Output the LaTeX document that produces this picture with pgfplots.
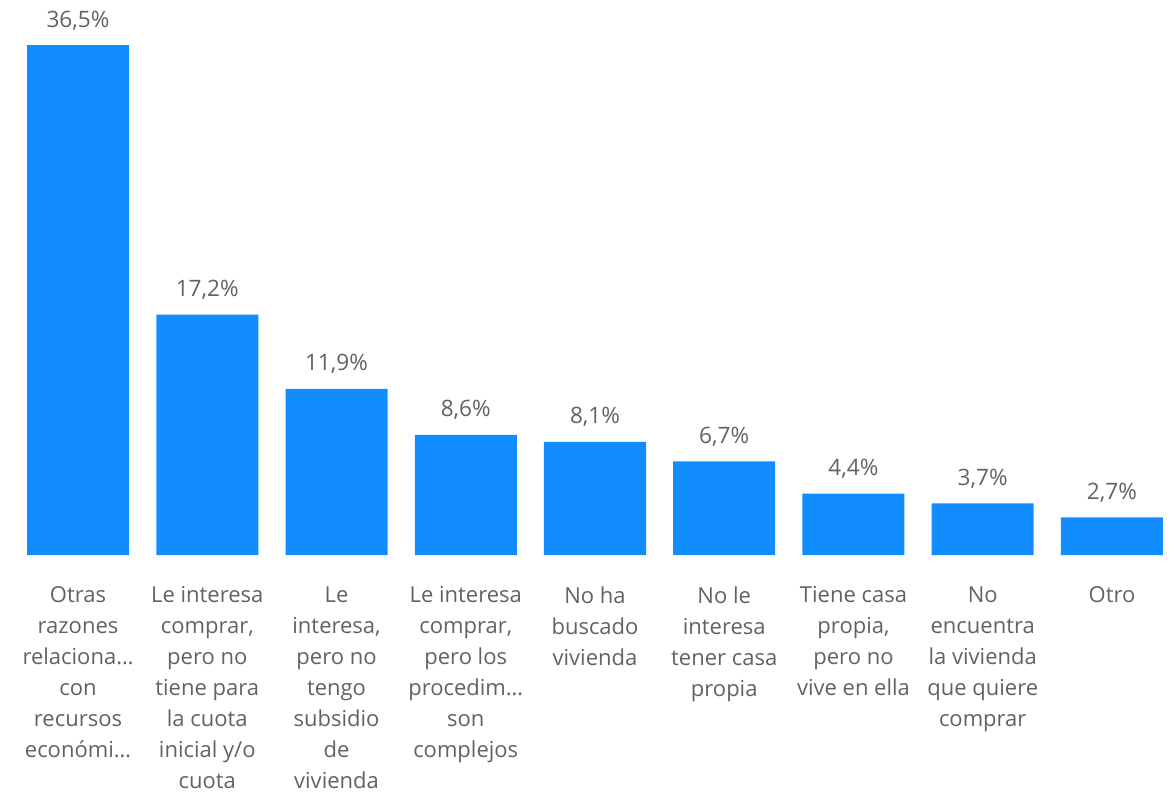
\documentclass[border=0pt]{standalone}
\usepackage{pgfplots}
\pgfplotsset{compat=1.18}
\usepackage{fontspec}
\setmainfont{Open Sans}
\definecolor{barblue}{HTML}{118DFF}
\definecolor{txtgray}{HTML}{646260}
\begin{document}
\begin{tikzpicture}
\useasboundingbox (0,0) rectangle (588pt,396.5pt);
\begin{axis}[
  at={(6.7pt,119pt)}, anchor=south west,
  scale only axis, width=581.6pt, height=275pt,
  xmin=-0.5, xmax=8.5, ymin=0, ymax=39.37,
  axis line style={draw=none},
  major tick length=0pt,
  ytick=\empty,
  xtick={0,...,8},
  xticklabels={
    {Otras\\razones\\relaciona…\\con\\recursos\\económi…},
    {Le interesa\\comprar,\\pero no\\tiene para\\la cuota\\inicial y/o\\cuota},
    {Le\\interesa,\\pero no\\tengo\\subsidio\\de\\vivienda},
    {Le interesa\\comprar,\\pero los\\procedim…\\son\\complejos},
    {No ha\\buscado\\vivienda},
    {No le\\interesa\\tener casa\\propia},
    {Tiene casa\\propia,\\pero no\\vive en ella},
    {No\\encuentra\\la vivienda\\que quiere\\comprar},
    {Otro}},
  xticklabel style={font={\fontsize{11}{15.5}\selectfont}, text=txtgray, align=center, anchor=north, inner sep=0pt, yshift=-15.5pt},
  /pgf/number format/assume math mode=true,
  nodes near coords={\pgfmathprintnumber[fixed,fixed zerofill,precision=1,use comma]{\pgfplotspointmeta}\%},
  every node near coord/.append style={font={\fontsize{11.3}{13}\selectfont}, text=txtgray, anchor=base, inner sep=0pt, yshift=9pt},
  clip=false,
]
\addplot[ybar, bar width=51pt, fill=barblue, draw=none] coordinates {
  (0,36.5) (1,17.2) (2,11.9) (3,8.6) (4,8.1) (5,6.7) (6,4.4) (7,3.7) (8,2.7)
};
\end{axis}
\end{tikzpicture}
\end{document}
